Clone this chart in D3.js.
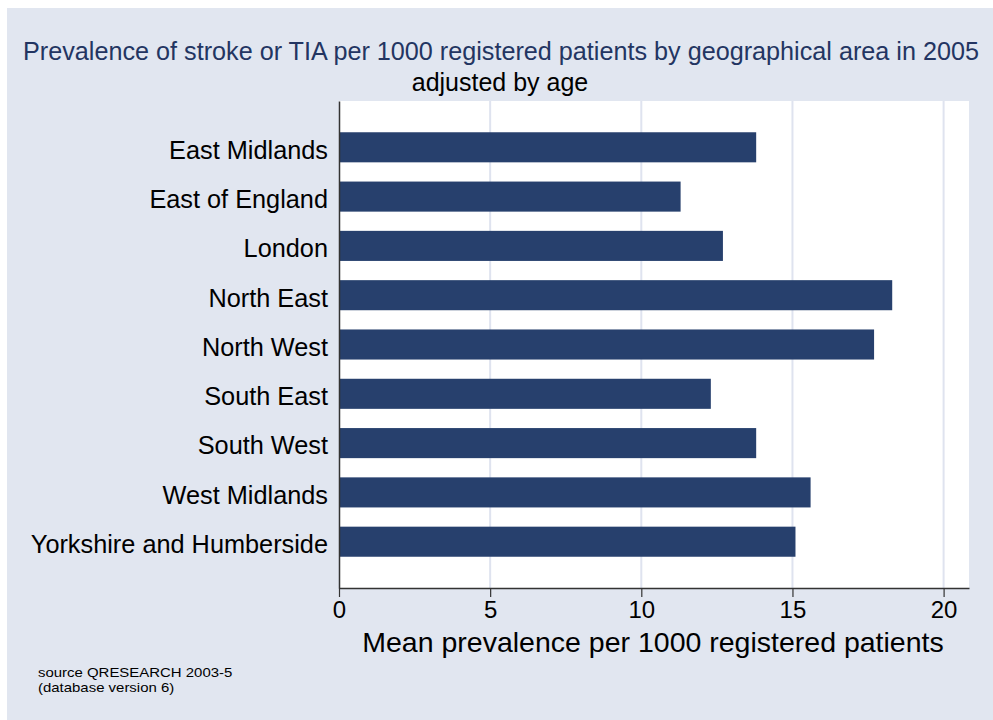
<!DOCTYPE html>
<html>
<head>
<meta charset="utf-8">
<script src="https://cdn.jsdelivr.net/npm/d3@7"></script>
<style>
  body { margin: 0; background: #ffffff; }
  svg text { font-family: "Liberation Sans", Arial, sans-serif; }
</style>
</head>
<body>
<div id="chart"></div>
<script>
// data
const regions = ["East Midlands", "East of England", "London", "North East", "North West",
                 "South East", "South West", "West Midlands", "Yorkshire and Humberside"];
const prevalence = [13.8, 11.3, 12.7, 18.3, 17.7, 12.3, 13.8, 15.6, 15.1];
const xTicks = [0, 5, 10, 15, 20];

const width = 993, height = 720;

const svg = d3.select("#chart")
    .append("svg")
    .attr("width", width)
    .attr("height", height);

// outer background (thin white edge on top and left)
svg.append("rect")
    .attr("x", 7).attr("y", 8)
    .attr("width", width - 7).attr("height", height - 8)
    .attr("fill", "#e1e6f0");

const plot = { left: 339, right: 969, top: 101, bottom: 588 };

const x = d3.scaleLinear()
    .domain([0, 20.84])
    .range([plot.left, plot.right]);

const y = d3.scaleBand()
    .domain(regions)
    .range([plot.top, plot.bottom])
    .paddingInner(0.39)
    .paddingOuter(0.634);

// plot region
svg.append("rect")
    .attr("x", plot.left).attr("y", plot.top)
    .attr("width", plot.right - plot.left).attr("height", plot.bottom - plot.top)
    .attr("fill", "#ffffff");

// vertical grid lines
svg.append("g")
    .selectAll("line")
    .data(xTicks.filter(d => d > 0))
    .join("line")
    .attr("x1", d => x(d)).attr("x2", d => x(d))
    .attr("y1", plot.top).attr("y2", plot.bottom)
    .attr("stroke", "#dfe3ef")
    .attr("stroke-width", 2);

// bars
svg.append("g")
    .selectAll("rect")
    .data(regions)
    .join("rect")
    .attr("x", x(0))
    .attr("y", d => y(d))
    .attr("width", (d, i) => x(prevalence[i]) - x(0))
    .attr("height", y.bandwidth())
    .attr("fill", "#27406d");

// x axis
const xAxis = svg.append("g")
    .attr("transform", `translate(0,${plot.bottom})`)
    .call(d3.axisBottom(x).tickValues(xTicks).tickSize(9).tickPadding(4).tickSizeOuter(0));
xAxis.select(".domain").attr("stroke", "#333").attr("stroke-width", 1.5);
xAxis.selectAll(".tick line").attr("stroke", "#333").attr("stroke-width", 1.2);
xAxis.selectAll(".tick text")
    .attr("fill", "#000")
    .style("font-size", "24px")
    .style("font-family", "Liberation Sans, Arial, sans-serif");

// y axis (line only, labels without ticks)
const yAxis = svg.append("g")
    .attr("transform", `translate(${plot.left},0)`)
    .call(d3.axisLeft(y).tickSize(0).tickPadding(11));
yAxis.select(".domain").attr("stroke", "#333").attr("stroke-width", 1.5);
yAxis.selectAll(".tick text")
    .attr("fill", "#000")
    .attr("dy", "0.45em")
    .style("font-size", "25.3px")
    .style("font-family", "Liberation Sans, Arial, sans-serif");

// titles
svg.append("text")
    .attr("x", 501).attr("y", 60)
    .attr("text-anchor", "middle")
    .attr("fill", "#233562")
    .style("font-size", "25.2px")
    .text("Prevalence of stroke or TIA per 1000 registered patients by geographical area in 2005");

svg.append("text")
    .attr("x", 500).attr("y", 91)
    .attr("text-anchor", "middle")
    .attr("fill", "#000")
    .style("font-size", "25px")
    .text("adjusted by age");

svg.append("text")
    .attr("x", (plot.left + plot.right) / 2 - 1).attr("y", 652)
    .attr("text-anchor", "middle")
    .attr("fill", "#000")
    .style("font-size", "28.5px")
    .text("Mean prevalence per 1000 registered patients");

// note (the original renders it a bit wide, so stretch it horizontally)
const note = svg.append("g")
    .attr("transform", "translate(38,0) scale(1.15,1)");
note.append("text")
    .attr("x", 0).attr("y", 677)
    .attr("fill", "#000")
    .style("font-size", "13px")
    .text("source QRESEARCH 2003-5");
note.append("text")
    .attr("x", 0).attr("y", 692)
    .attr("fill", "#000")
    .style("font-size", "13px")
    .text("(database version 6)");
</script>
</body>
</html>
